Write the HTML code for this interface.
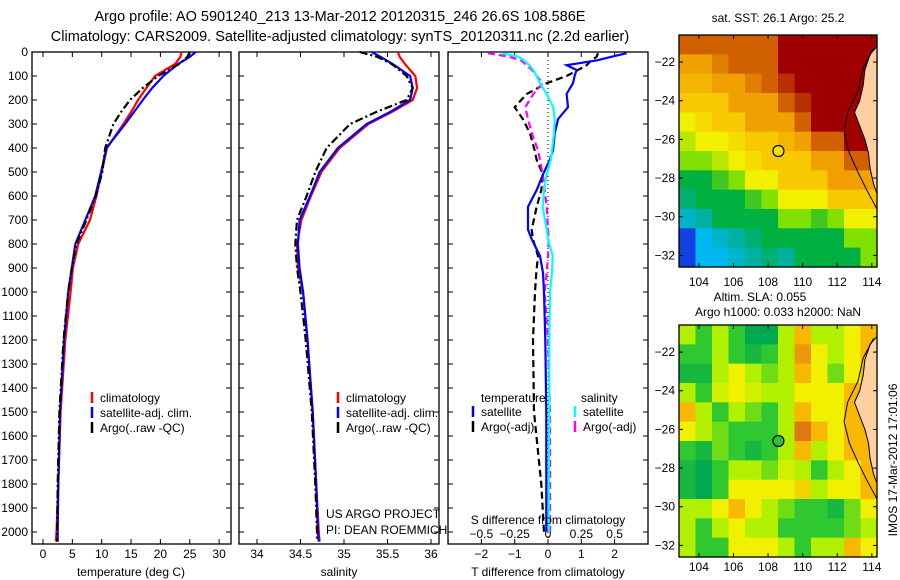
<!DOCTYPE html>
<html><head><meta charset="utf-8"><style>
html,body{margin:0;padding:0;background:#fff;}
svg{display:block;font-family:"Liberation Sans",sans-serif;font-size:12px;}
</style></head><body>
<svg id="fig" width="900" height="580" viewBox="0 0 900 580">
<text x="340" y="21" text-anchor="middle" font-size="14.5">Argo profile: AO 5901240_213 13-Mar-2012 20120315_246 26.6S 108.586E</text>
<text x="340" y="41" text-anchor="middle" font-size="14.5">Climatology: CARS2009. Satellite-adjusted climatology: synTS_20120311.nc (2.2d earlier)</text>
<g id="p1"></g>
<g id="p2"></g>
<g id="p3"></g>
<g id="m1"></g>
<g id="m2"></g>
<text x="778" y="22" text-anchor="middle">sat. SST: 26.1 Argo: 25.2</text>
<text x="760" y="301" text-anchor="middle">Altim. SLA: 0.055</text>
<text x="778" y="316" text-anchor="middle">Argo h1000: 0.033 h2000: NaN</text>
<text transform="translate(897,460) rotate(-90)" text-anchor="middle">IMOS 17-Mar-2012 17:01:06</text>
</svg>
<script>
const depths=[0,20,50,100,150,200,250,300,400,500,600,700,800,900,1000,1200,1500,1800,2000,2040];
const tempClim=[23.6,23.4,22.5,19.1,17.6,16.2,15.0,13.7,10.9,10.0,9.1,8.0,6.0,5.1,4.7,3.8,3.0,2.6,2.3,2.2];
const tempSat=[26.0,25.0,23.0,20.5,18.6,17.0,15.5,14.0,10.8,9.9,8.9,7.2,5.5,4.9,4.3,3.6,2.9,2.6,2.5,2.5];
const tempArgo=[25.0,24.6,23.2,19.6,17.0,14.8,13.3,12.0,10.6,10.1,9.0,7.4,5.7,4.9,4.3,3.5,2.8,2.5,2.4,2.4];
const salClim=[35.62,35.64,35.70,35.82,35.84,35.79,35.55,35.28,34.95,34.74,34.62,34.51,34.46,34.47,34.53,34.58,34.64,34.68,34.71,34.72];
const salSat=[35.32,35.42,35.56,35.76,35.79,35.76,35.53,35.26,34.93,34.72,34.61,34.49,34.47,34.49,34.53,34.58,34.64,34.68,34.70,34.71];
const salArgo=[35.18,35.38,35.55,35.72,35.79,35.72,35.37,35.07,34.80,34.67,34.57,34.46,34.44,34.46,34.50,34.56,34.63,34.67,34.69,34.69];
const diffDepths=[5,20,35,55,75,100,130,175,230,280,340,410,450,510,575,645,740,780,850,920,1000,1200,1500,1800,2000];
const tDiffSat=[2.36,1.9,1.46,0.56,0.86,0.8,0.75,0.56,0.6,0.3,0.2,0.15,0.05,-0.15,-0.34,-0.6,-0.6,-0.49,-0.24,-0.15,-0.12,-0.08,-0.05,-0.05,-0.05];
const tDiffArgo=[1.5,1.46,1.3,1.16,0.9,0.56,-0.04,-0.64,-1.0,-0.75,-0.54,-0.4,-0.34,-0.15,-0.2,-0.34,-0.49,-0.45,-0.3,-0.35,-0.39,-0.45,-0.42,-0.2,-0.12];
const sDiffSat=[-0.35,-0.22,-0.18,-0.14,-0.11,-0.085,-0.06,-0.01,0.04,0.05,0.045,0.03,0.02,-0.01,-0.03,-0.04,-0.01,0.0,0.035,0.03,0.015,0.01,0.01,0.005,0.005];
const sDiffArgo=[-0.45,-0.29,-0.2,-0.16,-0.12,-0.085,-0.04,-0.11,-0.17,-0.15,-0.12,-0.075,-0.06,-0.04,-0.025,-0.01,0.0,0.005,0.0,-0.01,-0.025,0.0,0.015,0.015,0.015];
const depthTicks=[0,100,200,300,400,500,600,700,800,900,1000,1100,1200,1300,1400,1500,1600,1700,1800,1900,2000];
const tempTicks=[0,5,10,15,20,25,30];
const salTicks=[34,34.5,35,35.5,36];
const tDiffTicks=[-2,-1,0,1,2];
const sDiffTicks=[-0.5,-0.25,0,0.25,0.5];
const lonTicks=[104,106,108,110,112,114];
const latTicks=[-22,-24,-26,-28,-30,-32];
const sstGrid=[
[9,9,9,9,9,9,10,10,10,10,10,10],
[8,8,8.5,9,9,9,10,10,10,10,10,10],
[7.5,7.5,8,8,8.5,9,9.5,10,10,10,10,10],
[7,7,7,8,8,8,9,9.5,10,10,10,10],
[6,6.5,7,7,8,8,8,9,10,10,10,10],
[5.5,6,6,6.5,7,7,7.5,8,9,9,10,10],
[5,5,5.5,6,6.5,7,7,7,8,8,9,9],
[4,4,4.5,5,6,6,7,7,7,8,8,8],
[3.5,4,4,4,4.5,5,6,6,6,7,7,7],
[2.5,3,4,4,4,4,5,5,4.5,5,6,6],
[1,2,2.5,3,3.5,4,4,4,4,4,5,5],
[1,2,2,2.5,3,3.5,3,4,4,4,4,5]];
const slaGrid=[
[5,4,5,4,3,3,5,7,5,5,6,7],
[4,4,5,4,3.5,4,5,7.5,6,5,6,7],
[3.5,3.5,5,6,5,4.5,5,7,6,4.5,6,7],
[5,4,5.5,6,5.5,5,5,6,6,6,7,7],
[7,5,4,5,4.5,4,5,7,6,6,7,7],
[6,5,4.5,4,4,4,5,8,7,6,7,7],
[4,3.5,4.5,4,3.5,4,5,7,5,6,7,7],
[3.5,3,4,5,5,4.5,5.5,5,4,5,6,7],
[3.5,3,4,6,6,6,6,6.5,5,6,6,7],
[5,5,6,7,6,5,4.5,4,4,3.5,4.5,6],
[5,4,5,6,5,5,4,4,4,4,4.5,5],
[5,4,4,6,6,6,5,4,5,5,7,6]];
const argoLon=108.6, argoLat=-26.6;

const NS='http://www.w3.org/2000/svg';
function mk(parent,tag,attrs){const e=document.createElementNS(NS,tag);for(const k in attrs)e.setAttribute(k,attrs[k]);parent.appendChild(e);return e;}
const yD=d=>52+0.24*d;
function fmt(v){return (v<0?'−':'')+String(Math.abs(v));}

function panel(g,x0,x1,xf,xticks,labels){
  const r=mk(g,'rect',{x:x0,y:52,width:x1-x0,height:492,fill:'none',stroke:'#000','stroke-width':1.3});
  
  
  depthTicks.forEach(d=>{
    mk(g,'line',{x1:x0,x2:x0+5,y1:yD(d),y2:yD(d),stroke:'#000'});
    mk(g,'line',{x1:x1,x2:x1-5,y1:yD(d),y2:yD(d),stroke:'#000'});
  });
  xticks.forEach(v=>{
    mk(g,'line',{x1:xf(v),x2:xf(v),y1:52,y2:57,stroke:'#000'});
    mk(g,'line',{x1:xf(v),x2:xf(v),y1:544,y2:539,stroke:'#000'});
    if(labels){const t=mk(g,'text',{x:xf(v),y:558,'text-anchor':'middle'});t.textContent=fmt(v);
      
      }
  });
}
function curve(g,vals,ds,xf,color,dash,name){
  const pts=vals.map((v,i)=>xf(v).toFixed(1)+','+yD(ds[i]).toFixed(1)).join(' ');
  const p=mk(g,'polyline',{points:pts,fill:'none',stroke:color,'stroke-width':2.2,'stroke-dasharray':dash||'none'});
  
  
}
function legend(g,x,y,color,label){
  mk(g,'line',{x1:x,x2:x,y1:y-10,y2:y+1,stroke:color,'stroke-width':2.5});
  const t=mk(g,'text',{x:x+8,y:y});t.textContent=label;
  
  
}
function txt(g,x,y,s,anchor,name){const t=mk(g,'text',{x:x,y:y,'text-anchor':anchor||'start'});t.textContent=s;
  
  return t;}

const p1=document.getElementById('p1');
const xT=v=>43+5.87*v;
panel(p1,32,231,xT,tempTicks,true);
depthTicks.forEach(d=>{txt(p1,28,yD(d)+4,String(d),'end','y-tick-label');});
curve(p1,tempClim,depths,xT,'#ff0000',null,'temp-climatology-line');
curve(p1,tempSat,depths,xT,'#0000ff',null,'temp-satellite-line');
curve(p1,tempArgo,depths,xT,'#000',"8,3,2,3",'temp-argo-line');
legend(p1,92,402,'#f00','climatology');
legend(p1,92,417,'#00f','satellite-adj. clim.');
legend(p1,92,432,'#000','Argo(..raw -QC)');
txt(p1,131,576,'temperature (deg C)','middle','x-axis-title');

const p2=document.getElementById('p2');
const xS=v=>257+87*(v-34);
panel(p2,239,439,xS,salTicks,true);
curve(p2,salClim,depths,xS,'#ff0000',null,'sal-climatology-line');
curve(p2,salSat,depths,xS,'#0000ff',null,'sal-satellite-line');
curve(p2,salArgo,depths,xS,'#000',"8,3,2,3",'sal-argo-line');
legend(p2,338,402,'#f00','climatology');
legend(p2,338,417,'#00f','satellite-adj. clim.');
legend(p2,338,432,'#000','Argo(..raw -QC)');
txt(p2,326,518,'US ARGO PROJECT','start','project-note');
txt(p2,326,534,'PI: DEAN ROEMMICH','start','pi-note');
txt(p2,339,576,'salinity','middle','x-axis-title');

const p3=document.getElementById('p3');
const xTd=v=>548+33.3*v, xSd=v=>548+133.3*v;
panel(p3,448,648,xTd,[-3,-2,-1,0,1,2],false);
tDiffTicks.forEach(v=>{txt(p3,xTd(v),558,fmt(v),'middle','t-diff-tick-label');});
sDiffTicks.forEach(v=>{txt(p3,xSd(v),538,fmt(v),'middle','s-diff-tick-label');});
mk(p3,'line',{x1:548,x2:548,y1:52,y2:544,stroke:'#000','stroke-dasharray':'1,3'});
curve(p3,tDiffArgo,diffDepths,xTd,'#000',"7,4",'t-diff-argo-line');
curve(p3,sDiffArgo,diffDepths,xSd,'#ff00ff',"7,4",'s-diff-argo-line');
curve(p3,tDiffSat,diffDepths,xTd,'#0000ff',null,'t-diff-satellite-line');
curve(p3,sDiffSat,diffDepths,xSd,'#00ffff',null,'s-diff-satellite-line');
txt(p3,481,402,'temperature','start','legend-header');
txt(p3,581,402,'salinity','start','legend-header');
legend(p3,473,416,'#00f','satellite');
legend(p3,473,431,'#000','Argo(-adj)');
legend(p3,575,416,'#0ff','satellite');
legend(p3,575,431,'#f0f','Argo(-adj)');
txt(p3,548,524,'S difference from climatology','middle','s-axis-title');
txt(p3,548,576,'T difference from climatology','middle','t-axis-title');

const sstStops=[[0,'#0000a0'],[1,'#1040e0'],[2,'#00b8f0'],[3,'#00b0a0'],[4,'#00b040'],[5,'#80e000'],[6,'#f0f000'],[7,'#f8c800'],[8,'#f0a000'],[9,'#d06000'],[10,'#a00000']];
const slaStops=[[3,'#00a850'],[4,'#30c830'],[5,'#b0f000'],[6,'#f0f000'],[7,'#f8b800'],[8,'#e07810']];
function colorOf(stops,v){
  for(let i=0;i<stops.length-1;i++){if(v>=stops[i][0]&&v<=stops[i+1][0]){const f=(v-stops[i][0])/(stops[i+1][0]-stops[i][0]);
    const a=stops[i][1],b=stops[i+1][1];const h=(c,k)=>parseInt(c.substr(1+2*k,2),16);
    return 'rgb('+[0,1,2].map(k=>Math.round(h(a,k)*(1-f)+h(b,k)*f)).join(',')+')';}}
  return v<stops[0][0]?stops[0][1]:stops[stops.length-1][1];}
function map(g,top,grid,stops,markerFill,lonLabelY){
  const lonF=v=>679+(v-102.85)*(198/11.45);
  const latF=v=>top+(-20.6-v)*(232/12);
  const cw=198/12,ch=232/12;
  grid.forEach((row,r)=>row.forEach((v,c)=>{
    const e=mk(g,'rect',{x:679+c*cw,y:top+r*ch,width:cw+0.6,height:ch+0.6,fill:colorOf(stops,v)});
    
    
  }));
  const land=[[114.3,-21.2],[113.9,-21.6],[113.6,-22.4],[113.5,-23.2],[113.3,-24.0],[113.0,-24.6],[113.3,-25.3],[113.6,-26.0],[113.8,-26.7],[113.9,-27.5],[114.1,-28.3],[114.3,-28.8]];
  const lp=land.map(p=>lonF(p[0]).toFixed(1)+','+latF(p[1]).toFixed(1)).join(' ');
  const L=mk(g,'polygon',{points:lp,fill:'#ffd0a0',stroke:'#000','stroke-width':1});
  
  
  const shelf=[[114.1,-21.3],[113.5,-22.3],[113.2,-23.5],[112.6,-24.6],[112.4,-25.6],[112.7,-26.7],[113.2,-27.7],[113.7,-28.6],[114.3,-29.6]];
  const S=mk(g,'polyline',{points:shelf.map(p=>lonF(p[0]).toFixed(1)+','+latF(p[1]).toFixed(1)).join(' '),fill:'none',stroke:'#000','stroke-width':1});
  
  
  const fr=mk(g,'rect',{x:679,y:top,width:198,height:232,fill:'none',stroke:'#000','stroke-width':1.3});
  
  
  lonTicks.forEach(v=>{mk(g,'line',{x1:lonF(v),x2:lonF(v),y1:top,y2:top+4,stroke:'#000'});mk(g,'line',{x1:lonF(v),x2:lonF(v),y1:top+232,y2:top+228,stroke:'#000'});
    txt(g,lonF(v),lonLabelY,String(v),'middle','lon-tick-label');});
  latTicks.forEach(v=>{mk(g,'line',{x1:679,x2:683,y1:latF(v),y2:latF(v),stroke:'#000'});mk(g,'line',{x1:877,x2:873,y1:latF(v),y2:latF(v),stroke:'#000'});
    txt(g,675,latF(v)+4,fmt(v),'end','lat-tick-label');});
  const m=mk(g,'circle',{cx:lonF(argoLon),cy:latF(argoLat),r:5.5,fill:markerFill,stroke:'#000','stroke-width':1.2});
  
  
}
map(document.getElementById('m1'),35,sstGrid,sstStops,'#f0e000',286);
map(document.getElementById('m2'),325,slaGrid,slaStops,'#30c030',571);
</script>
</body></html>
